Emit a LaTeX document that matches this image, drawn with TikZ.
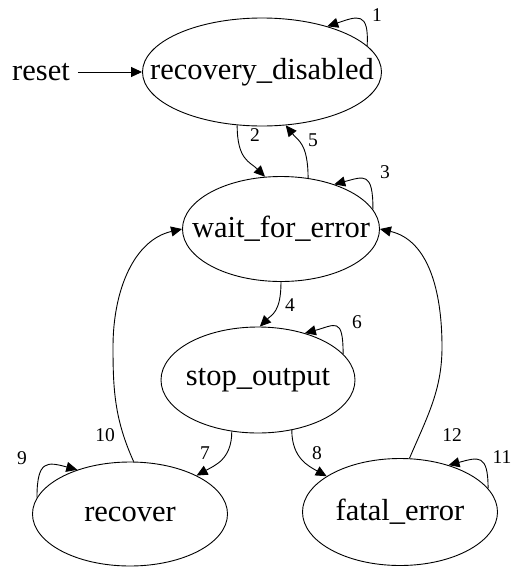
\documentclass[tikz,border=0pt]{standalone}
\usepackage{fontspec}
\setmainfont{Liberation Serif}
\usetikzlibrary{shapes.geometric, arrows.meta, positioning}

\begin{document}
\begin{tikzpicture}[
    x=1pt, y=-1pt,
    state/.style args={#1/#2}{ellipse, draw, line width=0.9pt, minimum width=#1, minimum height=#2, inner sep=0pt},
    every label/.style={font=\fontsize{30.5}{36}\selectfont, inner sep=0pt},
    statetext/.style={font=\fontsize{30.5}{36}\selectfont, inner sep=0pt},
    lbl/.style={font=\fontsize{19.5}{23}\selectfont, inner sep=0pt},
    arrow/.style={-{Triangle[length=11pt, width=10pt]}, line width=0.9pt}
]

% Page frame
\useasboundingbox (0,0) rectangle (511,568);

% States
\node[state=239pt/108pt, label=center:recovery\_disabled] (rd) at (262,72) {};
\node[state=197pt/105pt, label=center:wait\_for\_error] (wfe) at (281,229) {};
\node[state=194pt/106pt, label=center:stop\_output] (so) at (258,380) {};
\node[state=195pt/104pt, label=center:recover] (rec) at (130,514) {};
\node[state=195pt/107pt, label=center:fatal\_error] (fe) at (400,512) {};

% Reset input
\node[statetext, inner xsep=8pt] (reset) at (41,72) {reset};

% Bend points of the long edges
\coordinate (c10) at (113,347);
\coordinate (c12) at (442,347);

% Edges
\draw[arrow] (reset) -- (rd);
\draw[arrow] (rd.14) .. controls +(2,-35) and +(30,-10) .. (rd.35);
\draw[arrow] (rd.245) .. controls +(0,35) and +(-15,-15) .. (wfe.107);
\draw[arrow] (wfe.62) .. controls +(0,-35) and +(12,15) .. (rd.-66);
\draw[arrow] (wfe.12) .. controls +(0,-38) and +(30,-8) .. (wfe.40);
\draw[arrow] (wfe.270) .. controls +(0,30) and +(12,-12) .. (so.88);
\draw[arrow] (so.17) .. controls +(0,-38) and +(30,-8) .. (so.45);
\draw[arrow] (so.243) .. controls +(0,28) and +(18,-10) .. (rec.30);
\draw[arrow] (so.-56) .. controls +(0,28) and +(-18,-10) .. (fe.154);
\draw[arrow] (rec.170) .. controls +(0,-38) and +(-30,-8) .. (rec.140);
\draw[arrow] (rec.86) .. controls +(-19,-42) and +(0,43) .. (c10) .. controls +(0,-57) and +(-48,11) .. (wfe.180);
\draw[arrow] (fe.15) .. controls +(0,-35) and +(30,-8) .. (fe.44);
\draw[arrow] (fe.80) .. controls +(18,-42) and +(0,43) .. (c12) .. controls +(0,-57) and +(48,11) .. (wfe.0);

% Edge labels
\node[lbl] (l1) at (377,15) {1};
\node[lbl] (l2) at (255,135) {2};
\node[lbl] (l3) at (385,172) {3};
\node[lbl] (l4) at (290,305) {4};
\node[lbl] (l5) at (313,140) {5};
\node[lbl] (l6) at (357,322) {6};
\node[lbl] (l7) at (205,453) {7};
\node[lbl] (l8) at (317,453) {8};
\node[lbl] (l9) at (22,458) {9};
\node[lbl] (l10) at (105,435) {10};
\node[lbl] (l11) at (502,457) {11};
\node[lbl] (l12) at (452,435) {12};

\end{tikzpicture}
\end{document}
